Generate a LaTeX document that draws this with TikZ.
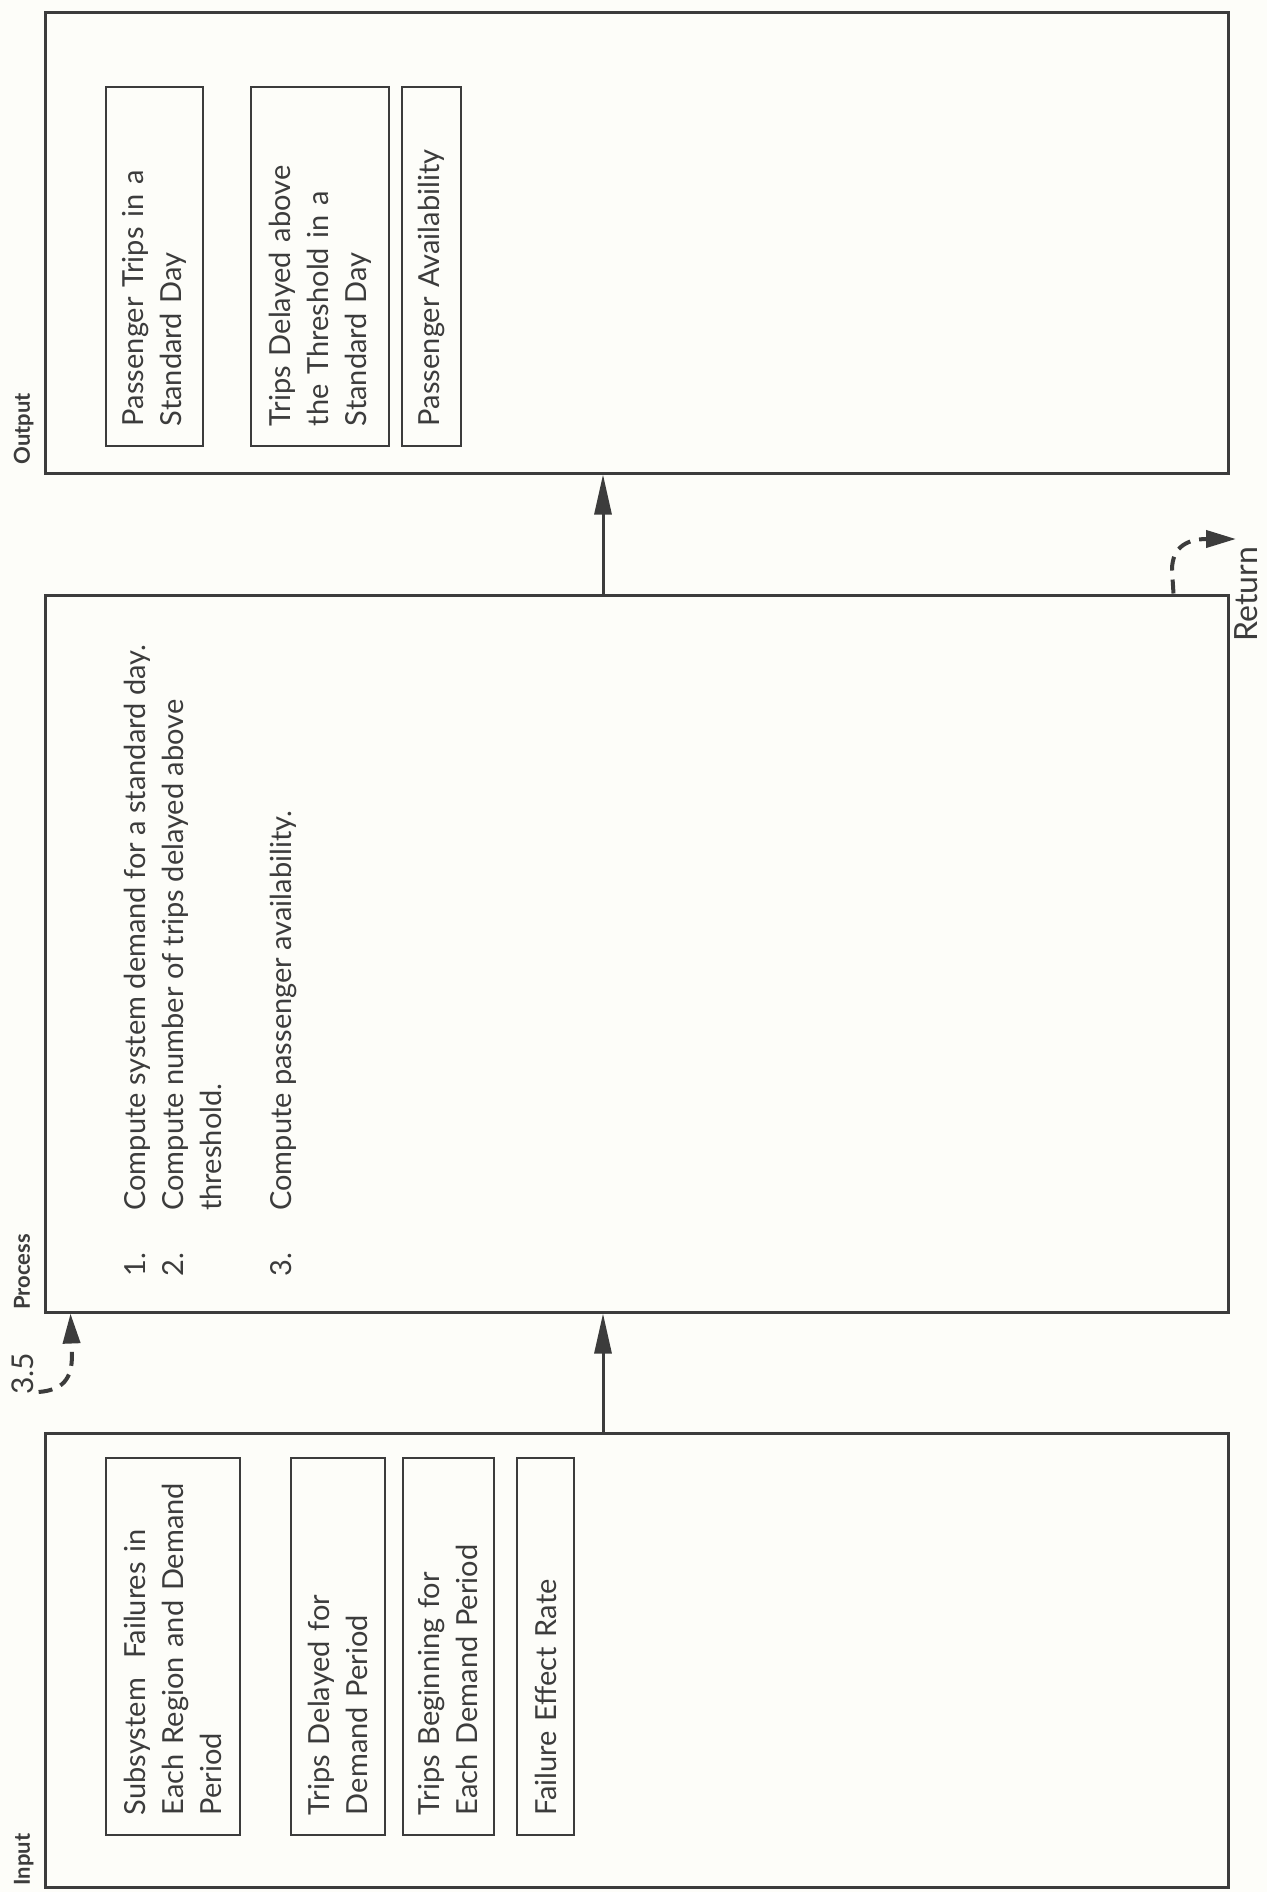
\documentclass[tikz,border=0pt]{standalone}
\usepackage{fontspec}
\setmainfont{Lato}
\usepackage{tikz}
\usetikzlibrary{arrows.meta, positioning}
\definecolor{inkD}{RGB}{60,60,60}
\definecolor{paperC}{RGB}{253,253,249}
\newcommand{\diagfont}{\fontsize{14.5}{19}\selectfont}

\begin{document}
\begin{tikzpicture}[x=0.5pt, y=-0.5pt,
    bigbox/.style={draw=inkD, line width=1.5pt, minimum width=591.5pt, inner sep=0pt},
    obox/.style={draw=inkD, line width=1pt, rotate=90, text width=159.5pt, text=inkD,
                 inner xsep=10pt, inner ysep=0pt, minimum height=#1, align=left, font=\diagfont},
    ibox/.style={obox=#1, text width=168.5pt},
    lbl/.style={rotate=90, anchor=base west, inner sep=0pt, text=inkD,
                font=\fontsize{11}{13}\selectfont\bfseries},
    flow/.style={draw=inkD, line width=1.5pt, -{Triangle[length=20pt, width=8.5pt]}},
    jump/.style={draw=inkD, line width=2pt, dash pattern=on 7pt off 4.5pt,
                 -{Triangle[length=15pt, width=8.5pt]}},
    hand/.style={rotate=90, anchor=base west, inner sep=0pt, text=inkD}
  ]
  \fill[paperC] (0,0) rectangle (1267,1892);
  \useasboundingbox (0,0) rectangle (1267,1892);

  % the three stages
  \node[bigbox, minimum height=230.5pt] (outbox) at (636.5, 242.5) {};
  \node[bigbox, minimum height=358.5pt] (procbox) at (636.5, 953.5) {};
  \node[bigbox, minimum height=227pt] (inbox) at (636.5, 1660) {};
  \node[lbl] (outlbl) at (30, 465) {Output};
  \node[lbl] (proclbl) at (30, 1310) {Process};
  \node[lbl] (inlbl) at (30, 1886) {Input};

  % input data
  \foreach \i/\cx/\th/\txt in {
      1/173/67pt/{Subsystem\ \ Failures in\\Each Region and Demand\\Period},
      2/338/47pt/{Trips Delayed for\\Demand Period},
      3/448.5/45.5pt/{Trips Beginning for\\Each Demand Period},
      4/545.5/28.5pt/{Failure Effect Rate}} {
    \node[ibox=\th] (in\i) at (\cx, 1646.5) {\txt};
  }

  % output data
  \foreach \i/\cx/\th/\txt in {
      1/154.5/48.5pt/{Passenger Trips in a\\Standard Day},
      2/320/69pt/{Trips Delayed above\\the Threshold in a\\Standard Day},
      3/431.5/29.5pt/{Passenger Availability}} {
    \node[obox=\th] (out\i) at (\cx, 266.5) {\txt};
  }

  % process steps
  \node[rotate=90, anchor=north west, inner sep=0pt, align=left, text=inkD, font=\diagfont]
       (steps) at (124, 1277)
       {\makebox[33pt][l]{1.}Compute system demand for a standard day.\\
        \makebox[33pt][l]{2.}Compute number of trips delayed above\\
        \hspace*{33pt}threshold.\\[16pt]
        \makebox[33pt][l]{3.}Compute passenger availability.};

  \draw[flow] ([xshift=-16.75pt]inbox.north) -- ([xshift=-16.75pt]procbox.south);
  \draw[flow] ([xshift=-16.75pt]procbox.north) -- ([xshift=-16.75pt]outbox.south);

  % entry and return
  \node[hand, font=\fontsize{15}{18}\selectfont] (step35) at (33, 1395) {3.5};
  \node[hand, font=\fontsize{16}{19}\selectfont] (retlbl) at (1257, 642) {Return};
  \coordinate (retpt) at (1236, 539);
  \draw[jump] ([xshift=2.5pt, yshift=1.5pt]step35.south west)
       .. controls (62,1390) and (72,1380) .. (72,1355) -- ([xshift=13.5pt]procbox.south west);
  \draw[jump] ([xshift=-28pt]procbox.north east) -- (1172,570)
       .. controls (1172,545) and (1190,539) .. (retpt);
\end{tikzpicture}
\end{document}
